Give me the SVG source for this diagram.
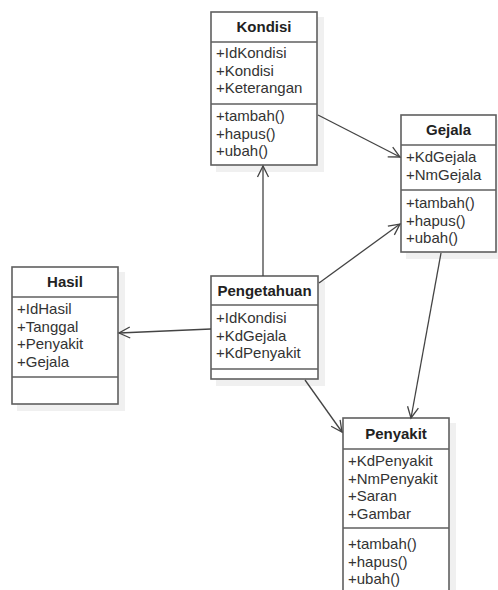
<svg xmlns="http://www.w3.org/2000/svg" width="498" height="590" viewBox="0 0 498 590">
  <defs>
    <style>
      .shadow { fill: #f0f0f0; stroke: none; }
      .box { fill: #ffffff; stroke: #5f5f5f; stroke-width: 1.6; }
      .sep { stroke: #5f5f5f; stroke-width: 1.6; }
      .title { font-family: "Liberation Sans", Arial, sans-serif; font-size: 15px; font-weight: bold; fill: #222; text-anchor: middle; }
      .item { font-family: "Liberation Sans", Arial, sans-serif; font-size: 15px; fill: #333; }
      .edge { stroke: #444; stroke-width: 1.3; fill: none; marker-end: url(#open); }
    </style>
    <marker id="open" markerWidth="14" markerHeight="14" refX="12" refY="7" orient="auto" markerUnits="userSpaceOnUse">
      <path d="M1,1.5 L12,7 L1,12.5" fill="none" stroke="#444" stroke-width="1.3"/>
    </marker>
  </defs>

  <rect width="498" height="590" fill="#ffffff"/>

  <!-- Kondisi -->
  <g id="kondisi">
    <rect class="shadow" x="216" y="17" width="108" height="155"/>
    <rect class="box" x="211" y="12" width="106" height="153"/>
    <line class="sep" x1="211" y1="42" x2="317" y2="42"/>
    <line class="sep" x1="211" y1="104" x2="317" y2="104"/>
    <text class="title" x="264" y="32">Kondisi</text>
    <text class="item" x="216" y="58">+IdKondisi</text>
    <text class="item" x="216" y="75.5">+Kondisi</text>
    <text class="item" x="216" y="93">+Keterangan</text>
    <text class="item" x="216" y="121">+tambah()</text>
    <text class="item" x="216" y="138.5">+hapus()</text>
    <text class="item" x="216" y="156">+ubah()</text>
  </g>

  <!-- Gejala -->
  <g id="gejala">
    <rect class="shadow" x="406" y="120" width="92" height="139"/>
    <rect class="box" x="401" y="115" width="95" height="137"/>
    <line class="sep" x1="401" y1="145" x2="496" y2="145"/>
    <line class="sep" x1="401" y1="190" x2="496" y2="190"/>
    <text class="title" x="448.5" y="135">Gejala</text>
    <text class="item" x="406" y="162">+KdGejala</text>
    <text class="item" x="406" y="179.5">+NmGejala</text>
    <text class="item" x="406" y="208">+tambah()</text>
    <text class="item" x="406" y="225.5">+hapus()</text>
    <text class="item" x="406" y="243">+ubah()</text>
  </g>

  <!-- Hasil -->
  <g id="hasil">
    <rect class="shadow" x="17" y="272" width="108" height="139"/>
    <rect class="box" x="12" y="267" width="106" height="137"/>
    <line class="sep" x1="12" y1="297" x2="118" y2="297"/>
    <line class="sep" x1="12" y1="377" x2="118" y2="377"/>
    <text class="title" x="65" y="287">Hasil</text>
    <text class="item" x="17" y="314">+IdHasil</text>
    <text class="item" x="17" y="331.5">+Tanggal</text>
    <text class="item" x="17" y="349">+Penyakit</text>
    <text class="item" x="17" y="366.5">+Gejala</text>
  </g>

  <!-- Pengetahuan -->
  <g id="pengetahuan">
    <rect class="shadow" x="216" y="281" width="109" height="105"/>
    <rect class="box" x="211" y="276" width="107" height="103"/>
    <line class="sep" x1="211" y1="305" x2="318" y2="305"/>
    <line class="sep" x1="211" y1="369" x2="318" y2="369"/>
    <text class="title" x="264.5" y="296">Pengetahuan</text>
    <text class="item" x="216" y="323">+IdKondisi</text>
    <text class="item" x="216" y="340.5">+KdGejala</text>
    <text class="item" x="216" y="358">+KdPenyakit</text>
  </g>

  <!-- Penyakit -->
  <g id="penyakit">
    <rect class="shadow" x="348" y="423" width="108" height="180"/>
    <rect class="box" x="343" y="418" width="106" height="185"/>
    <line class="sep" x1="343" y1="449" x2="449" y2="449"/>
    <line class="sep" x1="343" y1="528" x2="449" y2="528"/>
    <text class="title" x="396" y="439">Penyakit</text>
    <text class="item" x="348" y="466">+KdPenyakit</text>
    <text class="item" x="348" y="483.5">+NmPenyakit</text>
    <text class="item" x="348" y="501">+Saran</text>
    <text class="item" x="348" y="518.5">+Gambar</text>
    <text class="item" x="348" y="549">+tambah()</text>
    <text class="item" x="348" y="566.5">+hapus()</text>
    <text class="item" x="348" y="584">+ubah()</text>
  </g>

  <!-- Connectors -->
  <g id="connectors">
    <line class="edge" x1="318" y1="115" x2="400" y2="157"/>
    <line class="edge" x1="263" y1="276" x2="263" y2="166"/>
    <line class="edge" x1="319" y1="283" x2="400" y2="224"/>
    <line class="edge" x1="211" y1="329" x2="119" y2="333"/>
    <line class="edge" x1="305" y1="380" x2="342" y2="432"/>
    <line class="edge" x1="441" y1="253" x2="411" y2="418"/>
  </g>
</svg>
